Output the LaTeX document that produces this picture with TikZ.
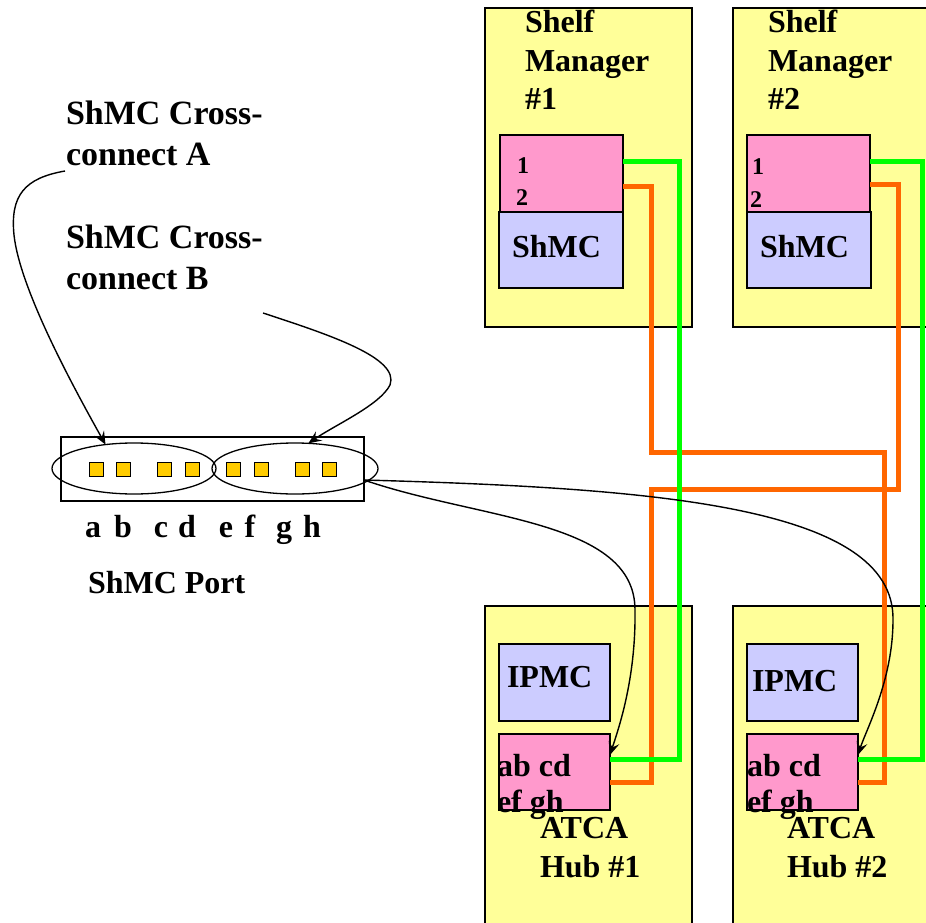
\documentclass[tikz,border=0pt]{standalone}
\usepackage{fontspec}
\setmainfont{Liberation Serif}
\usetikzlibrary{arrows.meta,shapes.geometric}
\definecolor{shelfyellow}{HTML}{FFFF99}
\definecolor{pinkbox}{HTML}{FF99CC}
\definecolor{lavbox}{HTML}{CCCCFF}
\definecolor{wiregreen}{HTML}{00FF00}
\definecolor{wireorange}{HTML}{FF6600}
\definecolor{portgold}{HTML}{FFCC00}
\begin{document}
\begin{tikzpicture}[x=1pt,y=-1pt,
  bigfont/.style={font=\fontsize{32}{38.5}\selectfont\bfseries},
  smallfont/.style={font=\fontsize{24}{28}\selectfont\bfseries},
  txt/.style={bigfont, anchor=base west, inner sep=0pt, outer sep=0pt, align=left},
  board/.style={draw, line width=1.6pt, fill=shelfyellow, anchor=north west, inner sep=0pt, outer sep=0pt, minimum width=207pt, minimum height=#1},
  pinkblk/.style={draw, line width=1.6pt, fill=pinkbox, anchor=north west, inner sep=0pt, outer sep=0pt},
  lavblk/.style={draw, line width=1.6pt, fill=lavbox, anchor=north west, inner sep=0pt, outer sep=0pt},
  portsq/.style={draw, line width=0.9pt, fill=portgold, inner sep=0pt, outer sep=0pt, minimum size=14pt},
  portring/.style={draw, line width=1.3pt, ellipse, inner sep=0pt, outer sep=0pt},
  gwire/.style={draw=wiregreen, line width=5pt},
  owire/.style={draw=wireorange, line width=5pt},
  pointer/.style={draw, line width=1.4pt, -{Stealth[length=13pt,width=11pt,inset=5pt]}},
  letter/.style={bigfont, anchor=base, inner sep=0pt},
  crossfont/.style={font=\fontsize{34}{41}\selectfont\bfseries}
]
\clip (0,0) rectangle (926,923);
\fill[white] (0,0) rectangle (926,923);

% boards
\node[board=319pt] (sm1) at (485,8) {};
\node[board=319pt] (sm2) at (733,8) {};
\node[board=330pt] (hub1) at (485,606) {};
\node[board=330pt] (hub2) at (733,606) {};

% inner blocks
\node[pinkblk, minimum width=123pt, minimum height=77pt] (p1) at (500,135) {};
\node[lavblk, minimum width=124pt, minimum height=76pt] (s1) at (499,212) {};
\node[pinkblk, minimum width=123pt, minimum height=77pt] (p2) at (747,135) {};
\node[lavblk, minimum width=124pt, minimum height=76pt] (s2) at (747,212) {};
\node[lavblk, minimum width=111pt, minimum height=77pt] (i1) at (499,644) {};
\node[pinkblk, minimum width=111pt, minimum height=76pt] (hp1) at (499,734) {};
\node[lavblk, minimum width=111pt, minimum height=77pt] (i2) at (747,644) {};
\node[pinkblk, minimum width=111pt, minimum height=76pt] (hp2) at (747,734) {};

% wires
\draw[owire] ([yshift=-51pt]p1.north east) -| (651,452) -| (884,600) |- ([yshift=-48pt]hp2.north east);
\draw[owire] ([yshift=-49pt]p2.north east) -| (898,489) -| (651,600) |- ([yshift=-48pt]hp1.north east);
\draw[gwire] ([yshift=-26pt]p1.north east) -| (679,460) |- ([yshift=-25pt]hp1.north east);
\draw[gwire] ([yshift=-26pt]p2.north east) -| (922,460) |- ([yshift=-25pt]hp2.north east);

% texts in boards (base anchor = last line baseline)
\node[txt] (t1) at (525,110) {Shelf\\Manager\\\#1};
\node[txt] (t2) at (768,110) {Shelf\\Manager\\\#2};
\node[smallfont, anchor=base west, inner sep=0pt] (n11) at (517,173) {1};
\node[smallfont, anchor=base west, inner sep=0pt] (n12) at (516,205) {2};
\node[smallfont, anchor=base west, inner sep=0pt] (n21) at (752,175) {1};
\node[smallfont, anchor=base west, inner sep=0pt] (n22) at (750,207) {2};
\node[txt] (st1) at (512,257) {ShMC};
\node[txt] (st2) at (760,257) {ShMC};
\node[txt] (it1) at (507,687) {IPMC};
\node[txt] (it2) at (752,691) {IPMC};
\node[txt] (ht1) at (497,812) {ab cd\\[-2.5pt]ef gh};
\node[txt] (ht2) at (747,812) {ab cd\\[-2.5pt]ef gh};
\node[txt] (at1) at (540,877) {ATCA\\Hub \#1};
\node[txt] (at2) at (787,877) {ATCA\\Hub \#2};

% port
\node[draw, line width=1.3pt, anchor=north west, inner sep=0pt, outer sep=0pt, minimum width=303pt, minimum height=64pt] (port) at (61,437) {};
\foreach \n/\x in {1/96,2/123,3/164,4/192,5/233,6/261,7/302,8/329}
  \node[portsq] (q\n) at (\x,469) {};
\node[portring, minimum width=164pt, minimum height=51pt] (eA) at (134,468.5) {};
\node[portring, minimum width=166pt, minimum height=51pt] (eB) at (295,468.5) {};
\foreach \l/\x in {a/93,b/123,c/161,d/187,e/226,f/250,g/284,h/312}
  \node[letter] (L\l) at (\x,537) {\l};
\node[txt] (pl) at (88,593) {ShMC Port};

% labels
\node[txt, crossfont] (cA) at (66,165) {ShMC Cross-\\connect A};
\node[txt, crossfont] (cB) at (66,289) {ShMC Cross-\\connect B};
\coordinate (cAe) at (65,171);
\coordinate (cBe) at (263,313);

% pointers
\draw[pointer] (cAe) .. controls (25,178) and (10,195) .. (14,235) .. controls (20,290) and (75,390) .. (eA.140);
\draw[pointer] (cBe) .. controls (330,335) and (400,358) .. (390,385) .. controls (380,405) and (335,425) .. (eB.62);
\draw[pointer] ([yshift=-11pt]port.east) .. controls (480,520) and (635,520) .. (635,610) .. controls (636,680) and (618,730) .. ([yshift=-21pt]hp1.north east);
\draw[pointer] ([yshift=-11pt]port.east) .. controls (650,488) and (895,505) .. (893,620) .. controls (893,680) and (866,730) .. ([yshift=-21pt]hp2.north east);
\end{tikzpicture}
\end{document}
